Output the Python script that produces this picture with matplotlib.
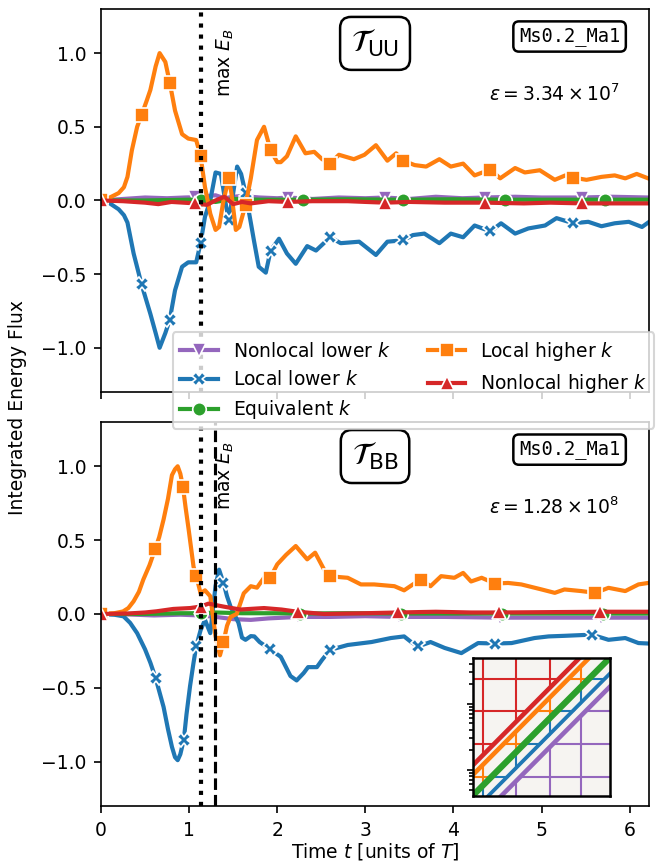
import numpy as np
import matplotlib
matplotlib.use("Agg")
import matplotlib.pyplot as plt
from matplotlib.patches import Polygon
from matplotlib.collections import LineCollection

plt.rcParams['font.size'] = 9
plt.rcParams['mathtext.fontset'] = 'dejavusans'

# ---------------- top panel: T_UU ----------------
t_uu_lhi = [0.00, 0.10, 0.20, 0.26, 0.30, 0.35, 0.41, 0.46, 0.52, 0.56, 0.62, 0.665, 0.73, 0.78,
            0.84, 0.92, 0.99, 1.08, 1.13, 1.18, 1.24, 1.30, 1.34, 1.39, 1.45, 1.48, 1.53, 1.57,
            1.64, 1.70, 1.77, 1.85, 1.925, 2.00, 2.04, 2.11, 2.21, 2.32, 2.42, 2.51, 2.60, 2.70,
            2.87, 2.99, 3.12, 3.25, 3.35, 3.43, 3.56, 3.69, 3.84, 3.97, 4.11, 4.24, 4.42, 4.53,
            4.70, 4.81, 4.98, 5.15, 5.27, 5.36, 5.51, 5.68, 5.83, 5.95, 6.08, 6.21]
f_uu_lhi = [0.00, 0.02, 0.05, 0.09, 0.16, 0.34, 0.50, 0.58, 0.68, 0.75, 0.91, 1.00, 0.94, 0.80,
            0.61, 0.45, 0.42, 0.41, 0.30, 0.09, -0.09, -0.20, -0.18, 0.00, 0.15, 0.05, -0.20, -0.18,
            -0.03, 0.15, 0.41, 0.50, 0.34, 0.26, 0.26, 0.30, 0.435, 0.32, 0.33, 0.28, 0.25, 0.31,
            0.28, 0.31, 0.375, 0.27, 0.32, 0.27, 0.24, 0.23, 0.28, 0.23, 0.25, 0.17, 0.21, 0.15,
            0.22, 0.19, 0.205, 0.14, 0.17, 0.155, 0.14, 0.16, 0.17, 0.15, 0.18, 0.15]

t_uu_llo = [0.00, 0.10, 0.20, 0.26, 0.30, 0.37, 0.46, 0.56, 0.62, 0.665, 0.73, 0.78, 0.84, 0.92,
            0.99, 1.08, 1.13, 1.18, 1.24, 1.30, 1.36, 1.42, 1.45, 1.50, 1.545, 1.59, 1.64, 1.70,
            1.735, 1.79, 1.87, 1.925, 2.02, 2.11, 2.21, 2.34, 2.44, 2.60, 2.72, 2.93, 3.12, 3.25,
            3.43, 3.54, 3.67, 3.84, 3.97, 4.11, 4.24, 4.42, 4.54, 4.70, 4.85, 5.04, 5.17, 5.36,
            5.53, 5.68, 5.83, 5.99, 6.14, 6.21]
f_uu_llo = [0.00, -0.02, -0.06, -0.10, -0.15, -0.36, -0.57, -0.77, -0.90, -1.00, -0.90, -0.81, -0.61, -0.45,
            -0.42, -0.42, -0.29, -0.11, 0.00, 0.19, 0.18, -0.04, -0.13, 0.05, 0.23, 0.18, 0.05, -0.15,
            -0.27, -0.45, -0.49, -0.34, -0.26, -0.36, -0.43, -0.31, -0.34, -0.25, -0.29, -0.28, -0.37, -0.28,
            -0.27, -0.235, -0.225, -0.29, -0.225, -0.25, -0.17, -0.21, -0.155, -0.225, -0.19, -0.17, -0.12, -0.155,
            -0.145, -0.175, -0.155, -0.145, -0.18, -0.15]

t_uu_nlo = [0.00, 0.25, 0.50, 0.75, 0.95, 1.07, 1.20, 1.30, 1.40, 1.50, 1.60, 1.80, 2.00, 2.12,
            2.40, 2.70, 3.00, 3.22, 3.50, 3.80, 4.10, 4.36, 4.70, 5.00, 5.46, 5.80, 6.21]
f_uu_nlo = [0.000, 0.010, 0.020, 0.015, 0.020, 0.022, 0.030, 0.035, 0.015, 0.025, 0.030, 0.020, 0.015, 0.020,
            0.010, 0.020, 0.015, 0.020, 0.010, 0.025, 0.015, 0.020, 0.025, 0.020, 0.020, 0.025, 0.020]

t_uu_eq = [0.00, 0.50, 1.00, 1.14, 1.30, 1.50, 1.80, 2.29, 2.80, 3.43, 4.00, 4.58, 5.20, 5.72, 6.21]
f_uu_eq = [0.000, 0.000, 0.005, 0.005, -0.010, 0.010, 0.005, 0.005, 0.008, 0.005, 0.008, 0.005, 0.005, 0.005, 0.005]

t_uu_nhi = [0.00, 0.25, 0.50, 0.65, 0.80, 1.07, 1.20, 1.30, 1.40, 1.50, 1.60, 1.70, 1.90, 2.12,
            2.40, 2.80, 3.00, 3.22, 3.50, 3.90, 4.36, 4.80, 5.10, 5.46, 5.90, 6.21]
f_uu_nhi = [0.000, -0.005, -0.015, -0.025, -0.010, -0.020, -0.030, 0.000, 0.025, -0.025, -0.010, -0.020, -0.005, -0.010,
            -0.005, -0.005, -0.010, -0.015, -0.010, -0.015, -0.015, -0.020, -0.015, -0.020, -0.020, -0.020]

# marker times (top)
m_uu_local = [0.0, 0.46, 0.78, 1.13, 1.45, 1.64, 1.925, 2.60, 3.43, 4.42, 5.36]
m_uu_nonlocal = [0.0, 1.07, 2.12, 3.22, 4.36, 5.46]
m_uu_eq = [0.0, 1.14, 2.29, 3.43, 4.58, 5.72]

# ---------------- bottom panel: T_BB ----------------
t_bb_lhi = [0.00, 0.15, 0.25, 0.31, 0.37, 0.43, 0.48, 0.55, 0.615, 0.66, 0.71, 0.76, 0.805, 0.84,
            0.87, 0.90, 0.93, 0.96, 0.995, 1.05, 1.08, 1.13, 1.18, 1.24, 1.30, 1.35, 1.39, 1.43,
            1.47, 1.54, 1.58, 1.62, 1.70, 1.77, 1.85, 1.92, 2.00, 2.10, 2.21, 2.34, 2.43, 2.55,
            2.60, 2.70, 2.80, 2.95, 3.10, 3.33, 3.44, 3.54, 3.63, 3.74, 3.86, 4.01, 4.11, 4.20,
            4.32, 4.47, 4.62, 4.77, 5.00, 5.15, 5.26, 5.45, 5.61, 5.76, 5.95, 6.10, 6.21]
f_bb_lhi = [0.000, 0.005, 0.017, 0.040, 0.086, 0.150, 0.233, 0.330, 0.440, 0.520, 0.640, 0.780, 0.940, 0.980,
            1.000, 0.950, 0.860, 0.720, 0.570, 0.320, 0.260, 0.140, 0.160, 0.120, -0.150, -0.280, -0.190, -0.080,
            -0.020, 0.000, 0.070, 0.140, 0.188, 0.178, 0.245, 0.245, 0.336, 0.400, 0.460, 0.370, 0.415, 0.280,
            0.257, 0.250, 0.245, 0.200, 0.200, 0.188, 0.160, 0.200, 0.233, 0.188, 0.256, 0.245, 0.278, 0.220,
            0.245, 0.206, 0.210, 0.200, 0.166, 0.143, 0.166, 0.155, 0.143, 0.177, 0.155, 0.200, 0.210]

t_bb_llo = [0.00, 0.15, 0.255, 0.33, 0.41, 0.50, 0.56, 0.62, 0.71, 0.76, 0.805, 0.84, 0.87, 0.90,
            0.94, 0.97, 1.01, 1.05, 1.08, 1.13, 1.18, 1.24, 1.30, 1.34, 1.39, 1.43, 1.47, 1.56,
            1.60, 1.64, 1.70, 1.74, 1.80, 1.92, 2.04, 2.15, 2.22, 2.30, 2.35, 2.45, 2.51, 2.60,
            2.80, 3.07, 3.29, 3.44, 3.52, 3.60, 3.74, 3.90, 4.09, 4.28, 4.47, 4.66, 4.92, 5.08,
            5.26, 5.57, 5.76, 5.95, 6.10, 6.21]
f_bb_llo = [0.000, -0.005, -0.016, -0.060, -0.130, -0.240, -0.330, -0.435, -0.630, -0.780, -0.900, -0.970, -0.990, -0.950,
            -0.850, -0.680, -0.490, -0.330, -0.220, -0.110, -0.040, -0.130, 0.190, 0.300, 0.210, 0.120, 0.050, -0.060,
            -0.160, -0.175, -0.150, -0.152, -0.190, -0.240, -0.290, -0.420, -0.450, -0.400, -0.360, -0.360, -0.310, -0.243,
            -0.210, -0.190, -0.163, -0.152, -0.190, -0.220, -0.190, -0.230, -0.265, -0.197, -0.200, -0.197, -0.163, -0.152,
            -0.148, -0.140, -0.175, -0.163, -0.197, -0.200]

t_bb_nlo = [0.00, 0.30, 0.60, 0.90, 1.13, 1.30, 1.50, 1.70, 1.90, 2.24, 2.60, 3.00, 3.38, 3.90, 4.53, 5.10, 5.67, 6.21]
f_bb_nlo = [0.000, -0.003, -0.010, -0.005, -0.010, -0.020, -0.035, -0.040, -0.030, -0.020, -0.020, -0.015, -0.020,
            -0.020, -0.025, -0.025, -0.025, -0.025]

t_bb_eq = [0.00, 0.50, 0.90, 1.14, 1.30, 1.60, 2.00, 2.26, 2.80, 3.40, 4.00, 4.55, 5.10, 5.70, 6.21]
f_bb_eq = [0.000, 0.000, 0.005, 0.005, 0.010, 0.005, 0.005, 0.003, 0.005, 0.003, 0.003, 0.003, 0.003, 0.003, 0.003]

t_bb_nhi = [0.00, 0.30, 0.50, 0.63, 0.82, 1.01, 1.13, 1.22, 1.39, 1.58, 1.85, 2.05, 2.23, 2.53, 3.00, 3.37,
            3.80, 4.20, 4.52, 5.00, 5.66, 6.21]
f_bb_nhi = [0.000, 0.003, 0.010, 0.018, 0.034, 0.040, 0.050, 0.070, 0.050, 0.030, 0.040, 0.030, 0.015, 0.000,
            0.005, 0.010, 0.015, 0.010, 0.010, 0.012, 0.015, 0.015]

m_bb_lhi = [0.0, 0.615, 0.93, 1.08, 1.39, 1.92, 2.60, 3.63, 4.47, 5.61]
m_bb_llo = [0.0, 0.62, 0.94, 1.08, 1.39, 1.92, 2.60, 3.60, 4.47, 5.57]
m_bb_nonlocal = [0.0, 1.13, 2.24, 3.38, 4.53, 5.67]
m_bb_nhi = [0.0, 1.13, 2.23, 3.37, 4.52, 5.66]
m_bb_eq = [0.0, 1.14, 2.26, 3.40, 4.55, 5.70]

labels = ['Nonlocal lower $k$', 'Local lower $k$', 'Equivalent $k$', 'Local higher $k$', 'Nonlocal higher $k$']
colors = ['#9467bd', '#1f77b4', '#2ca02c', '#ff7f0e', '#d62728']
markers = ['v', 'X', 'o', 's', '^']

t_max_e_bb = 1.29
t_dot = 1.13

# inset schematic: band offsets (v - u) and grid positions in axes fraction
band_offsets = [-0.21, -0.115, 0.0, 0.15, 0.22]
band_widths = [2.2, 1.8, 3.0, 2.2, 2.2]
grid_u = [0.078, 0.32, 0.563, 0.794]
grid_v = [0.14, 0.378, 0.617, 0.847]
region_lims = [(-5, -0.21), (-0.13, 0.0), None, (0.0, 0.15), (0.22, 5)]


def idx(t, times):
    t = np.asarray(t)
    return [int(np.argmin(np.abs(t - tm))) for tm in times]


fig = plt.figure(figsize=(659 / 150, 867 / 150), dpi=150)
ax1 = fig.add_axes([0.1533, 0.5479, 0.8316, 0.4418])
ax2 = fig.add_axes([0.1533, 0.0704, 0.8316, 0.4429], sharex=ax1)

top = [(t_uu_nlo, f_uu_nlo, m_uu_nonlocal), (t_uu_llo, f_uu_llo, m_uu_local), (t_uu_eq, f_uu_eq, m_uu_eq),
       (t_uu_lhi, f_uu_lhi, m_uu_local), (t_uu_nhi, f_uu_nhi, m_uu_nonlocal)]
bot = [(t_bb_nlo, f_bb_nlo, m_bb_nonlocal), (t_bb_llo, f_bb_llo, m_bb_llo), (t_bb_eq, f_bb_eq, m_bb_eq),
       (t_bb_lhi, f_bb_lhi, m_bb_lhi), (t_bb_nhi, f_bb_nhi, m_bb_nhi)]

handles = []
for ax, data in [(ax1, top), (ax2, bot)]:
    for (t, f, m), lab, c, mk in zip(data, labels, colors, markers):
        h, = ax.plot(t, f, color=c, lw=2, marker=mk, ms=6.5, mec='white', mew=0.8,
                     markevery=idx(t, m), label=lab)
        if ax is ax1:
            handles.append(h)
    ax.set_ylim(-1.3, 1.3)
    ax.set_yticks([-1.0, -0.5, 0.0, 0.5, 1.0])
    ax.axvline(t_dot, color='k', ls=':', lw=2)
    ax.text(1.415, 1.17, r'max $E_B$', rotation=90, ha='center', va='top')

ax2.axvline(t_max_e_bb, color='k', ls='--', lw=1.5)
ax1.set_xlim(0, 6.22)
ax1.set_xticks(range(7))
ax1.tick_params(labelbottom=False)
ax2.set_xlabel(r'Time $t$ [units of $T$]', labelpad=0.5)
fig.text(0.026, 0.53, 'Integrated Energy Flux', rotation=90, ha='center', va='center')

for ax, name, eps in [(ax1, r'$\mathcal{T}_{\rm UU}$', r'$\varepsilon = 3.34 \times 10^{7}$'),
                      (ax2, r'$\mathcal{T}_{\rm BB}$', r'$\varepsilon = 1.28 \times 10^{8}$')]:
    ax.text(0.5, 0.91, name, transform=ax.transAxes, ha='center', va='center', fontsize=15,
            bbox=dict(boxstyle='round,pad=0.35', fc='white', ec='black', lw=1.2))
    ax.text(0.855, 0.928, 'Ms0.2_Ma1', transform=ax.transAxes, ha='center', va='center',
            family='DejaVu Sans Mono', bbox=dict(boxstyle='round,pad=0.3', fc='white', ec='black', lw=1.2))
    ax.text(0.827, 0.777, eps, transform=ax.transAxes, ha='center', va='center')

fig.legend(handles=handles, ncol=2, loc='center', bbox_to_anchor=(0.6275, 0.561))

# inset: schematic of the k-space regions
axi = fig.add_axes([0.717, 0.082, 0.208, 0.159])
axi.set_facecolor('#f6f4f1')
axi.set_yscale('log')
axi.set_ylim(10 ** -0.396, 10 ** 1.6875)
axi.set_xlim(0, 1)
axi.set_xticks([])
axi.tick_params(axis='y', which='both', labelleft=False, length=3, width=0.8)
axi.tick_params(axis='y', which='minor', length=2)
for sp in axi.spines.values():
    sp.set_linewidth(1.2)

segs = [[(u, 0), (u, 1)] for u in grid_u] + [[(0, v), (1, v)] for v in grid_v]
for lims, c in zip(region_lims, colors):
    if lims is None:
        continue
    lo, hi = lims
    clip = Polygon([(-1, -1 + lo), (2, 2 + lo), (2, 2 + hi), (-1, -1 + hi)], closed=True,
                   transform=axi.transAxes)
    lc = LineCollection(segs, colors=c, lw=1.0, transform=axi.transAxes)
    axi.add_collection(lc)
    lc.set_clip_path(clip)
for off, w, c in zip(band_offsets, band_widths, colors):
    axi.plot([-0.5, 1.5], [-0.5 + off, 1.5 + off], color=c, lw=w, transform=axi.transAxes,
             solid_capstyle='butt')

fig.savefig('out.png', dpi=150)
